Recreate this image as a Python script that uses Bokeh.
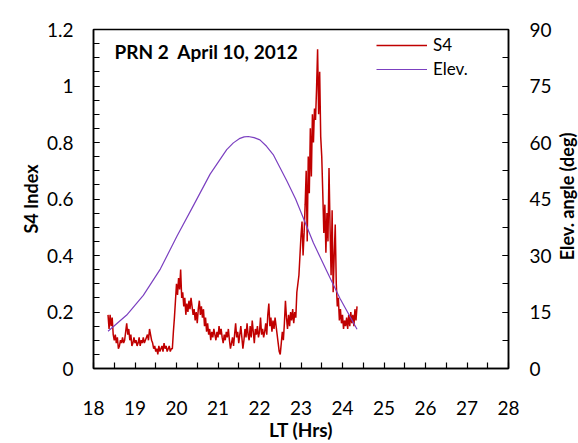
import math
from bokeh.plotting import figure
from bokeh.models import (Range1d, LinearAxis, FixedTicker, Legend, LegendItem,
                          Label, ColumnDataSource)
from bokeh.embed import file_html
from bokeh.resources import INLINE

# ---------------- data ----------------
s4_t0 = 18.35      # first sample (LT hours)
s4_dt = 0.025      # sampling step (hours)
s4_values = [
    0.19, 0.14, 0.19, 0.15, 0.18, 0.12, 0.10, 0.12, 0.09, 0.11,
    0.07, 0.08, 0.10, 0.09, 0.11, 0.09, 0.10, 0.13, 0.16, 0.12,
    0.14, 0.10, 0.12, 0.08, 0.09, 0.11,
    0.09, 0.10, 0.08, 0.09, 0.11, 0.08, 0.10, 0.09, 0.11, 0.09,
    0.10, 0.11, 0.12, 0.10, 0.14, 0.12, 0.10, 0.09, 0.07, 0.08,
    0.06, 0.07, 0.05, 0.08, 0.06, 0.07, 0.08, 0.06, 0.09, 0.07,
    0.08, 0.06, 0.07, 0.08, 0.06, 0.07, 0.07,
    0.13, 0.18, 0.24, 0.30, 0.26, 0.32, 0.28, 0.35, 0.25, 0.27,
    0.22, 0.25, 0.19, 0.23, 0.20, 0.24, 0.21, 0.25, 0.22, 0.19,
    0.21, 0.17, 0.20, 0.16, 0.21, 0.24, 0.19, 0.22, 0.18, 0.21,
    0.15, 0.18, 0.13, 0.16, 0.12, 0.14, 0.10, 0.13, 0.11, 0.14,
    0.12, 0.10, 0.13, 0.11, 0.15, 0.12, 0.14, 0.11, 0.09, 0.12,
    0.10, 0.13, 0.11, 0.14, 0.10, 0.07, 0.09, 0.11, 0.08, 0.12,
    0.16, 0.11, 0.13, 0.09, 0.12, 0.15, 0.11, 0.07, 0.10, 0.14,
    0.11, 0.16, 0.12, 0.10, 0.15, 0.11, 0.17, 0.13, 0.09, 0.14,
    0.12, 0.15, 0.11, 0.13, 0.18, 0.12, 0.14, 0.11, 0.13, 0.16,
    0.12, 0.19, 0.23, 0.15, 0.18, 0.13, 0.17, 0.14, 0.18, 0.15,
    0.12, 0.09, 0.06, 0.05, 0.09, 0.13, 0.10, 0.16, 0.24, 0.18,
    0.14, 0.19, 0.15, 0.20, 0.17, 0.21, 0.16, 0.20, 0.18, 0.27,
    0.30, 0.33, 0.40, 0.47, 0.52, 0.40, 0.48, 0.58, 0.70, 0.45,
    0.75, 0.62, 0.85, 0.68, 0.90, 0.80, 0.92, 0.88, 0.99, 1.13,
    0.90, 1.05, 0.82, 0.75, 0.62, 0.48, 0.58, 0.41, 0.55, 0.45,
    0.71, 0.50, 0.33, 0.56, 0.27, 0.40, 0.51, 0.30, 0.22, 0.25,
    0.17, 0.21, 0.16, 0.19, 0.14, 0.17, 0.15, 0.18, 0.14, 0.19,
    0.15, 0.20, 0.16, 0.19, 0.15, 0.21, 0.17, 0.22,
]
s4_time = [s4_t0 + i * s4_dt for i in range(len(s4_values))]

elev_time = [18.35, 18.80, 19.20, 19.61, 20.01, 20.41, 20.81, 21.21, 21.37,
             21.53, 21.63, 21.73, 21.87, 22.01, 22.17, 22.33, 22.66, 22.87,
             22.98, 23.30, 23.62, 23.94, 24.27, 24.35]
elev_deg = [9.9, 14.2, 19.4, 26.4, 35.1, 43.3, 51.6, 58.1, 59.9,
            61.1, 61.5, 61.6, 61.3, 60.7, 59.0, 56.8, 49.8, 45.0,
            42.0, 33.3, 25.9, 18.6, 12.0, 10.4]

x_ticks = [18, 19, 20, 21, 22, 23, 24, 25, 26, 27, 28]
y_ticks = [0, 0.2, 0.4, 0.6, 0.8, 1.0, 1.2]
y_tick_labels = ["0", "0.2", "0.4", "0.6", "0.8", "1", "1.2"]
elev_ticks = [0, 15, 30, 45, 60, 75, 90]
title_text = "PRN 2\u00a0\u00a0April 10, 2012"
series_names = ["S4", "Elev."]
right_title = "Elev. angle (deg)"

# ---------------- figure ----------------
FONT = "Lato"
p = figure(width=578, height=443, output_backend="svg", toolbar_location=None,
           x_range=Range1d(18, 28), y_range=Range1d(0, 1.2),
           min_border_left=93, min_border_right=70,
           min_border_top=29, min_border_bottom=69)
p.extra_y_ranges = {"elev": Range1d(0, 90)}
p.xgrid.visible = False
p.ygrid.visible = False
p.outline_line_color = "black"
p.outline_line_width = 1.5
p.background_fill_color = "white"
p.border_fill_color = "white"


def style_axis(ax, label_size="19px", title_size="19px"):
    ax.axis_line_color = "black"
    ax.axis_line_width = 1.5
    ax.major_tick_in = 6
    ax.major_tick_out = 0
    ax.minor_tick_in = 6
    ax.minor_tick_out = 0
    ax.major_tick_line_color = "black"
    ax.minor_tick_line_color = "black"
    ax.major_tick_line_width = 1.2
    ax.minor_tick_line_width = 1.2
    ax.major_label_text_font = FONT
    ax.major_label_text_font_size = label_size
    ax.major_label_text_color = "black"
    ax.axis_label_text_font = FONT
    ax.axis_label_text_font_style = "bold"
    ax.axis_label_text_font_size = title_size
    ax.axis_label_text_color = "black"


# bottom axis
xa = p.xaxis[0]
xa.ticker = FixedTicker(ticks=x_ticks,
                        minor_ticks=[t + 0.5 for t in x_ticks[:-1]])
xa.axis_label = "LT (Hrs)"
style_axis(xa)
xa.major_label_standoff = 32
xa.axis_label_standoff = 0

# left axis
ya = p.yaxis[0]
ya.ticker = FixedTicker(ticks=y_ticks,
                        minor_ticks=[round(i * 0.05, 2) for i in range(25)])
ya.major_label_overrides = {t: l for t, l in zip(y_ticks, y_tick_labels)}
ya.axis_label = "S4 Index"
style_axis(ya, title_size="18px")
ya.major_label_standoff = 20
ya.axis_label_standoff = 2

# right axis: ticks and tick labels
ra = LinearAxis(y_range_name="elev")
ra.ticker = FixedTicker(ticks=elev_ticks,
                        minor_ticks=[i * 7.5 for i in range(13)])
style_axis(ra)
ra.major_label_standoff = 21
p.add_layout(ra, "right")

# right title, reading bottom-to-top, in its own side panel
right_lbl = Label(x=12, y=172, x_units="screen", y_units="screen",
                  text=right_title, angle=math.pi / 2, text_font=FONT,
                  text_font_style="bold", text_font_size="18px",
                  text_align="center", text_baseline="middle",
                  text_color="black")
p.add_layout(right_lbl, "right")

# data
s4_src = ColumnDataSource(dict(t=s4_time, v=s4_values))
el_src = ColumnDataSource(dict(t=elev_time, v=elev_deg))
r_s4 = p.line("t", "v", source=s4_src, line_color="#C00000", line_width=1.5)
r_el = p.line("t", "v", source=el_src, line_color="#7B40C0", line_width=1.2,
              y_range_name="elev")

legend = Legend(items=[LegendItem(label=series_names[0], renderers=[r_s4]),
                       LegendItem(label=series_names[1], renderers=[r_el])],
                location=(283, 289), padding=0, margin=0, spacing=3,
                glyph_width=51, glyph_height=20, label_height=20,
                label_standoff=6, border_line_color=None,
                background_fill_alpha=0,
                label_text_font=FONT, label_text_font_size="17px",
                label_text_color="black")
p.add_layout(legend, "center")

title_lbl = Label(x=21, y=317, x_units="screen", y_units="screen",
                  text=title_text, text_font=FONT, text_font_style="bold",
                  text_font_size="19px", text_baseline="middle",
                  text_color="black")
p.add_layout(title_lbl)

open("out.html", "w").write(file_html(p, INLINE))
